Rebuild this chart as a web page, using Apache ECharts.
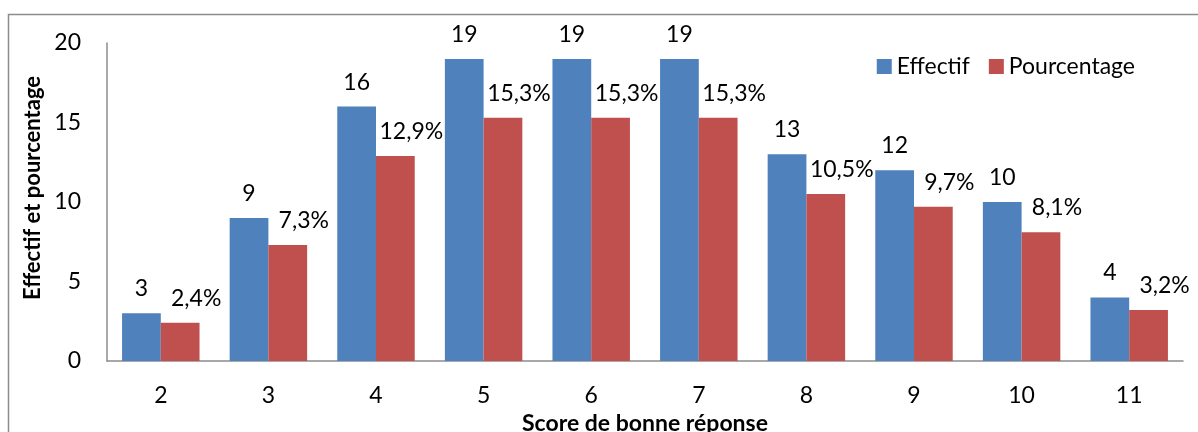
<!DOCTYPE html>
<html>
<head>
<meta charset="utf-8">
<script src="https://cdn.jsdelivr.net/npm/echarts@6/dist/echarts.min.js"></script>
<style>
  html, body { margin: 0; padding: 0; background: #fff; }
  #chart { width: 1198px; height: 432px; }
</style>
</head>
<body>
<div id="chart"></div>
<script>
const categories = ['2', '3', '4', '5', '6', '7', '8', '9', '10', '11'];
const effectif = [3, 9, 16, 19, 19, 19, 13, 12, 10, 4];
const pourcentage = [2.4, 7.3, 12.9, 15.3, 15.3, 15.3, 10.5, 9.7, 8.1, 3.2];
const yTicks = [0, 5, 10, 15, 20];

const font = 'Lato, "Open Sans", sans-serif';
const chart = echarts.init(document.getElementById('chart'));

chart.setOption({
  animation: false,
  textStyle: { fontFamily: font },
  graphic: [
    {
      type: 'rect',
      shape: { x: 8.5, y: 14.5, width: 1400, height: 600 },
      style: { fill: 'none', stroke: '#8c8c8c', lineWidth: 1.5 },
      silent: true,
    },
  ],
  legend: {
    right: 58,
    top: 50,
    itemWidth: 15,
    itemHeight: 15,
    itemGap: 19,
    textStyle: { fontFamily: font, fontSize: 23, color: '#000' },
    icon: 'rect',
  },
  grid: { left: 107, right: 15, top: 43, bottom: 71, outerBoundsMode: 'none' },
  xAxis: {
    type: 'category',
    data: categories,
    name: 'Score de bonne réponse',
    nameLocation: 'middle',
    nameGap: 44,
    nameTextStyle: { fontFamily: font, fontSize: 23, fontWeight: 'bold', color: '#000' },
    axisLine: { lineStyle: { color: '#8c8c8c', width: 1.5 } },
    axisTick: { show: false },
    axisLabel: { fontFamily: font, fontSize: 23, color: '#000', margin: 23 },
  },
  yAxis: {
    type: 'value',
    min: yTicks[0],
    max: yTicks[yTicks.length - 1],
    interval: 5,
    name: 'Effectif et pourcentage',
    nameLocation: 'middle',
    nameGap: 62,
    nameTextStyle: { fontFamily: font, fontSize: 22, fontWeight: 'bold', color: '#000', padding: [0, 0, 0, 28] },
    axisLine: { show: true, lineStyle: { color: '#8c8c8c', width: 1.5 } },
    axisTick: { show: false },
    splitLine: { show: false },
    axisLabel: { fontFamily: font, fontSize: 23, color: '#000', margin: 26 },
  },
  series: [
    {
      name: 'Effectif',
      type: 'bar',
      data: effectif,
      barGap: '0%',
      barCategoryGap: '28%',
      itemStyle: { color: '#4f81bd' },
      label: {
        show: true,
        position: 'top',
        distance: 13,
        fontFamily: font,
        fontSize: 23,
        color: '#000',
      },
    },
    {
      name: 'Pourcentage',
      type: 'bar',
      data: pourcentage,
      itemStyle: { color: '#c0504d' },
      label: {
        show: true,
        position: 'top',
        distance: 13,
        offset: [16, 0],
        fontFamily: font,
        fontSize: 23,
        color: '#000',
        formatter: (p) => String(p.value).replace('.', ',') + '%',
      },
    },
  ],
});
</script>
</body>
</html>
